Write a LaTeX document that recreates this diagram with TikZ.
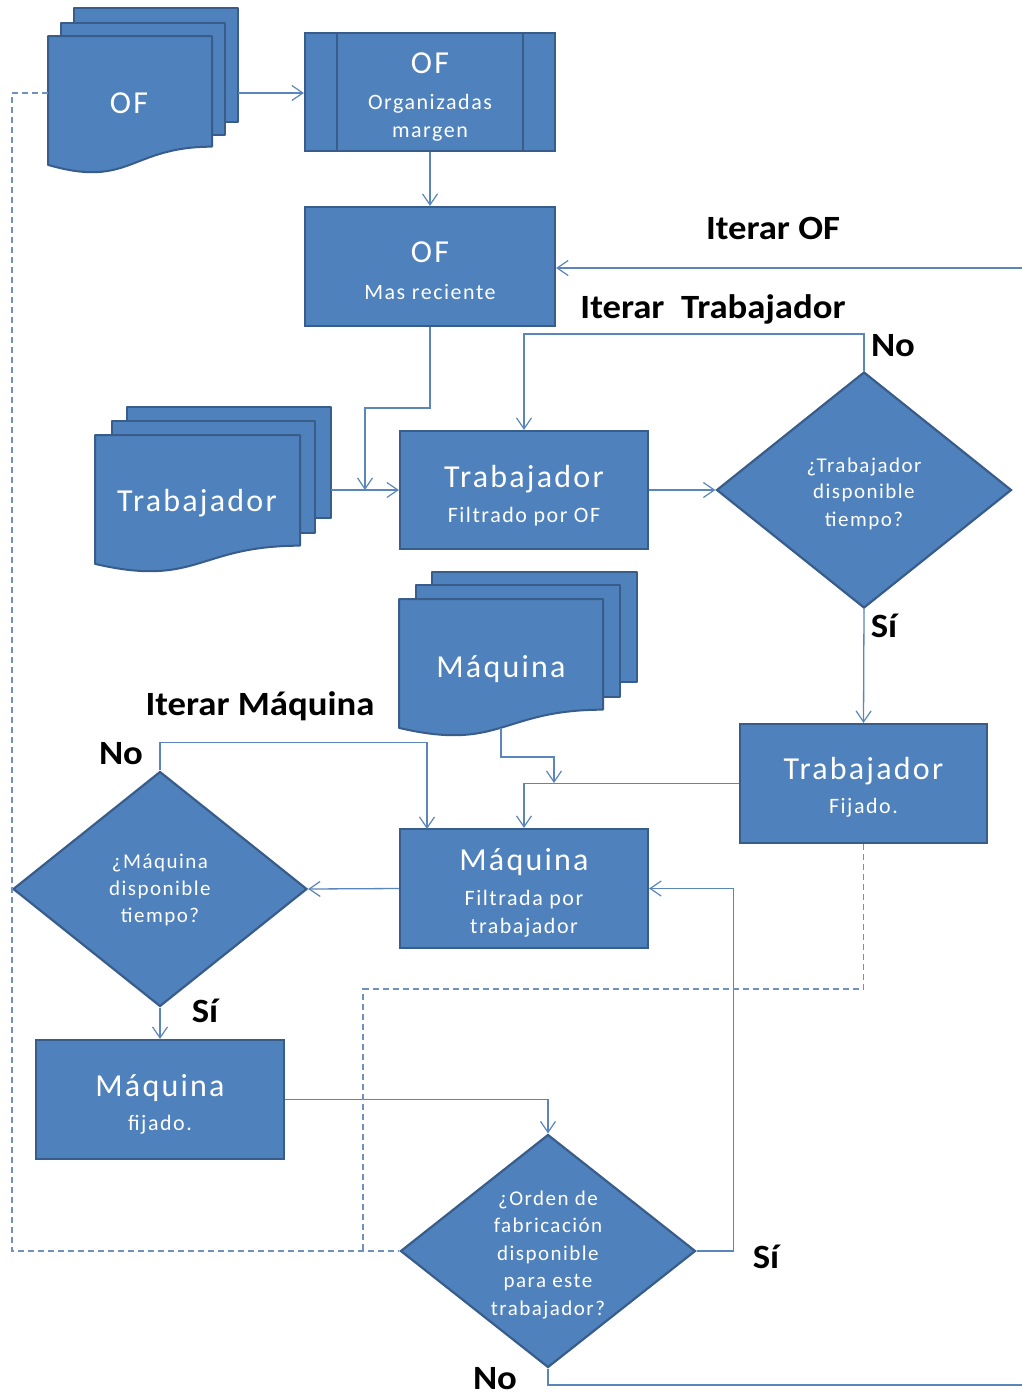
\documentclass[tikz,border=0pt]{standalone}
\usepackage{fontspec}
\setmainfont{Carlito}
\newfontfamily\boxfont[LetterSpace=7]{Carlito}
\newfontfamily\lblfont[FakeStretch=1.08]{Carlito}
\usetikzlibrary{arrows.meta,shapes.geometric}

\definecolor{shapefill}{HTML}{4F81BD}
\definecolor{shapeline}{HTML}{385D8A}
\definecolor{wire}{HTML}{5A86BC}
\definecolor{dashwire}{HTML}{7090BE}

\tikzset{
  box/.style={draw=shapeline, fill=shapefill, line width=2.2pt, inner sep=0pt},
  dia/.style={diamond, draw=shapeline, fill=shapefill, line width=2.2pt, inner sep=0pt},
  sheet/.style={draw=shapeline, fill=shapefill, line width=2pt, line join=round},
  conn/.style={draw=wire, line width=1.3pt},
  tip/.style={-{Straight Barb[length=11pt,width=15pt,line width=1.2pt]}},
  dashline/.style={draw=dashwire, line width=1.3pt, dash pattern=on 6pt off 4pt},
  ttl/.style={text=white, anchor=base, inner sep=0pt, font=\boxfont\fontsize{32}{32}\selectfont},
  sub/.style={text=white, anchor=base, inner sep=0pt, font=\boxfont\fontsize{22}{22}\selectfont},
  qtxt/.style={text=white, anchor=base, inner sep=0pt, font=\boxfont\fontsize{21}{21}\selectfont},
  lbl/.style={anchor=base, inner sep=0pt, font=\lblfont\bfseries\fontsize{34}{34}\selectfont},
}

% a plain sheet of a document stack: left, top, right, bottom
\newcommand\flatsheet[4]{\filldraw[sheet] (#1,#2) rectangle (#3,#4);}
% the front sheet with a wavy lower edge: left, top, right, height
\newcommand\wavysheet[4]{\filldraw[sheet] (#1,#2) -- (#3,#2) -- (#3,{#2+0.802*#4})
  .. controls ({0.5*(#1+#3)},{#2+0.802*#4}) and ({0.5*(#1+#3)},{#2+1.107*#4}) .. (#1,{#2+0.934*#4}) -- cycle;}

\begin{document}
\begin{tikzpicture}[x=1pt,y=-1pt]
\fill[white] (0,0) rectangle (1022,1398);
\useasboundingbox (0,0) rectangle (1022,1398);

% ---- document stacks ----
\flatsheet{74}{8}{238}{122}
\flatsheet{61}{23}{225}{135}
\wavysheet{48}{36}{212}{138}
\node[ttl] (ofdoc) at (129,113) {OF};
\coordinate (ofR) at (238,93);
\coordinate (ofL) at (48,93);

\flatsheet{127}{407}{331}{518}
\flatsheet{112}{421}{315}{533}
\wavysheet{95}{435}{300}{138}
\node[ttl] (trdoc) at (197,511) {Trabajador};
\coordinate (trR) at (331,490);

\flatsheet{432}{572}{637}{682}
\flatsheet{416}{585}{620}{697}
\wavysheet{399}{599}{603}{138}
\node[ttl] (mqdoc) at (501,677) {Máquina};
\coordinate (mqB) at (501,728);

% ---- process boxes ----
\node[box, minimum width=250pt, minimum height=118pt] (org) at (430,92) {};
\draw[shapeline, line width=2pt] ([xshift=33pt]org.north west) -- ([xshift=33pt]org.south west);
\draw[shapeline, line width=2pt] ([xshift=-33pt]org.north east) -- ([xshift=-33pt]org.south east);
\node[ttl] at (430,73) {OF};
\node[sub] at (430,109) {Organizadas};
\node[sub] at (430,137) {margen};

\node[box, minimum width=250pt, minimum height=119pt] (rec) at (430,266.5) {};
\node[ttl] at (430,262) {OF};
\node[sub] at (430,299) {Mas reciente};

\node[box, minimum width=248pt, minimum height=118pt] (tfil) at (524,490) {};
\node[ttl] at (524,487) {Trabajador};
\node[sub] at (524,522) {Filtrado por OF};

\node[box, minimum width=247pt, minimum height=119pt] (tfij) at (863.5,783.5) {};
\node[ttl] at (863.5,779) {Trabajador};
\node[sub] at (863.5,813) {Fijado.};

\node[box, minimum width=248pt, minimum height=119pt] (mfil) at (524,888.5) {};
\node[ttl] at (524,870) {Máquina};
\node[sub] at (524,905) {Filtrada por};
\node[sub] at (524,933) {trabajador};

\node[box, minimum width=248pt, minimum height=119pt] (mfij) at (160,1099.5) {};
\node[ttl] at (160,1096) {Máquina};
\node[sub] at (160,1130) {fijado.};

% ---- decisions ----
\node[dia, minimum width=295pt, minimum height=236pt] (d1) at (864,490) {};
\node[qtxt] at (864,472) {¿Trabajador};
\node[qtxt] at (864,498) {disponible};
\node[qtxt] at (864,526) {tiempo?};

\node[dia, minimum width=294pt, minimum height=235pt] (d2) at (160,889) {};
\node[qtxt] at (160,868) {¿Máquina};
\node[qtxt] at (160,895) {disponible};
\node[qtxt] at (160,922) {tiempo?};

\node[dia, minimum width=295pt, minimum height=233pt] (d3) at (548,1251) {};
\node[qtxt] at (548,1205) {¿Orden de};
\node[qtxt] at (548,1232) {fabricación};
\node[qtxt] at (548,1260) {disponible};
\node[qtxt] at (548,1287) {para este};
\node[qtxt] at (548,1315) {trabajador?};

% ---- connectors ----
\coordinate (loopOF) at (1022,268);
\coordinate (loopOut) at (1022,1385);
\coordinate (trJ) at (365,490);
\coordinate (mqJ) at (554,783);
\coordinate (mIn) at (427,829);
\coordinate (dJ) at (363,1251);

\draw[conn,tip] (ofR) -- (ofR -| org.west);
\draw[conn,tip] (org.south) -- (rec.north);
\draw[conn,tip] (loopOF) -- (loopOF -| rec.east);
\draw[conn,tip] (rec.south) -- ++(0,81) -| (trJ);
\draw[conn,tip] (trR) -- (trR -| tfil.west);
\draw[conn,tip] (tfil.east) -- (d1.west);
\draw[conn,tip] (d1.north) -- ++(0,-37) -| (tfil.north);
\draw[conn,tip] (d1.south) -- (tfij.north);
\draw[conn,tip] (mqB) -- ++(0,29) -| (mqJ);
\draw[conn,tip] (tfij.west) -| (mfil.north);
\draw[conn,tip] (mfil.west) -- (d2.east);
\draw[conn,tip] (d2.north) -- ++(0,-28) -| (mIn);
\draw[conn,tip] (d2.south) -- (mfij.north);
\draw[conn,tip] (mfij.east) -| (d3.north);
\draw[conn,tip] (d3.east) -- ++(37,0) |- (mfil.east);
\draw[conn] (d3.south) |- (loopOut);

% ---- dashed return paths ----
\draw[dashline] (ofL) -- ++(-36,0) |- (d3.west);
\draw[dashline] (tfij.south) -- ++(0,145) -| (dJ);

% ---- labels ----
\node[lbl] at (773,239) {Iterar OF};
\node[lbl] at (713,318) {Iterar\ \ Trabajador};
\node[lbl] at (893,356) {No};
\node[lbl] at (884,637) {Sí};
\node[lbl] at (260,715) {Iterar Máquina};
\node[lbl] at (121,764) {No};
\node[lbl] at (205,1022) {Sí};
\node[lbl] at (766,1268) {Sí};
\node[lbl] at (495,1389) {No};
\end{tikzpicture}
\end{document}
